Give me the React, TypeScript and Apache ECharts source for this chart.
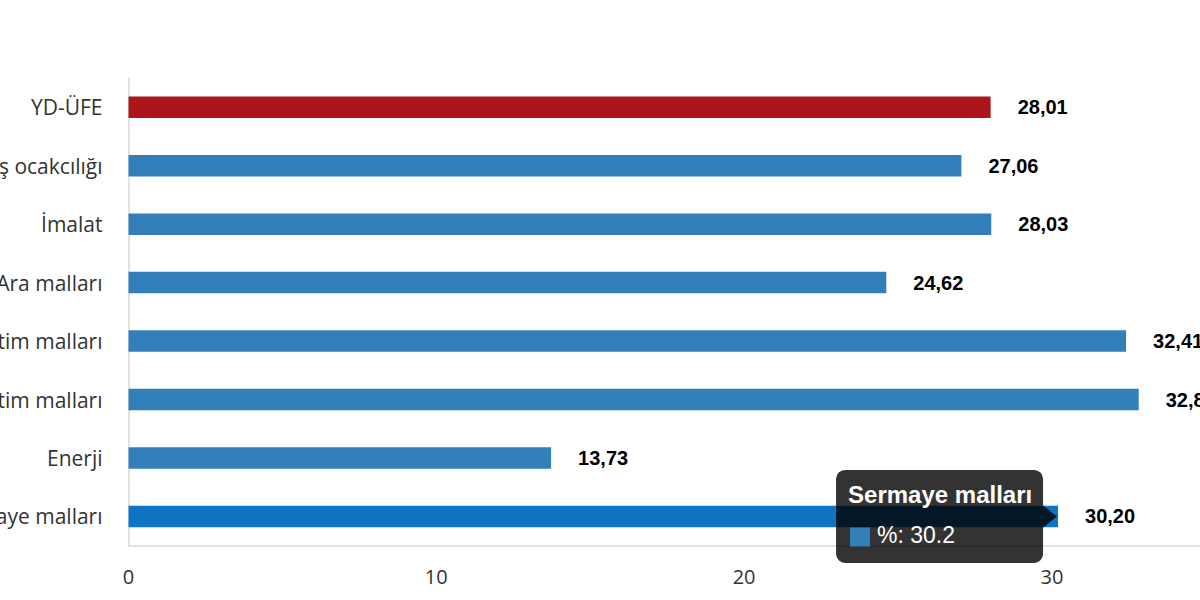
import React, { useEffect, useRef } from "react";
import * as echarts from "echarts";

const categories = [
  "YD-ÜFE",
  "Madencilik ve taş ocakcılığı",
  "İmalat",
  "Ara malları",
  "Dayanıklı tüketim malları",
  "Dayanıksız tüketim malları",
  "Enerji",
  "Sermaye malları",
];
const values = [28.01, 27.06, 28.03, 24.62, 32.41, 32.82, 13.73, 30.2];
const seriesName = "%";
const xMin = 0;
const xMax = 40;
const xInterval = 10;
const highlightedIndex = 7;

const BLUE = "#327fb9";
const RED = "#ac151c";
const HIGHLIGHT = "#1074c4";

const OFFSET_X = 300;
const INNER_W = 1700;
const INNER_H = 600;

export default function App() {
  const ref = useRef<HTMLDivElement>(null);

  useEffect(() => {
    if (!ref.current) return;
    const chart = echarts.init(ref.current, null, { renderer: "svg" });
    const data = values.map((v, i) => ({
      value: v,
      itemStyle: {
        color: i === 0 ? RED : i === highlightedIndex ? HIGHLIGHT : BLUE,
      },
    }));
    chart.setOption({
      animation: false,
      grid: {
        left: 128.5 + OFFSET_X,
        top: 78,
        width: 30.78 * (xMax - xMin),
        bottom: 54.3,
        containLabel: false,
      },
      xAxis: {
        type: "value",
        min: xMin,
        max: xMax,
        interval: xInterval,
        splitLine: { show: false },
        axisTick: { show: false },
        axisLine: { show: true, lineStyle: { color: "#e2e2e2", width: 2 } },
        axisLabel: {
          color: "#333",
          fontSize: 20,
          fontFamily: "Open Sans",
          margin: 21,
        },
      },
      yAxis: {
        type: "category",
        data: categories,
        inverse: true,
        axisTick: { show: false },
        axisLine: { show: true, lineStyle: { color: "#e2e2e2", width: 2 } },
        axisLabel: {
          color: "#333",
          fontSize: 21,
          fontFamily: "Open Sans",
          margin: 26,
        },
      },
      series: [
        {
          name: seriesName,
          type: "bar",
          data,
          barWidth: 21.5,
          label: {
            show: true,
            position: "right",
            distance: 27,
            color: "#000",
            fontSize: 20,
            fontWeight: "bold",
            fontFamily: "Arial, 'Liberation Sans', sans-serif",
            formatter: (p: any) => Number(p.value).toFixed(2).replace(".", ","),
          },
        },
      ],
    });

    const anchor = chart.convertToPixel({ gridIndex: 0 }, [
      values[highlightedIndex],
      categories[highlightedIndex],
    ]) as number[];
    const ax = anchor[0];
    const ay = anchor[1];
    const bw = 207;
    const bh = 93;
    const bx = ax - 15 - bw;
    const by = ay - bh / 2;
    const tipFill = "rgba(0,0,0,0.8)";
    chart.setOption({
      graphic: [
        {
          type: "rect",
          z: 100,
          shape: { x: bx, y: by, width: bw, height: bh, r: 9 },
          style: { fill: tipFill },
        },
        {
          type: "polygon",
          z: 100,
          shape: {
            points: [
              [bx + bw, ay - 11],
              [bx + bw + 14, ay],
              [bx + bw, ay + 11],
            ],
          },
          style: { fill: tipFill },
        },
        {
          type: "text",
          z: 101,
          x: bx + 12,
          y: by + 25,
          style: {
            text: categories[highlightedIndex],
            fill: "#fff",
            font: "bold 24px Arial, 'Liberation Sans', sans-serif",
            verticalAlign: "middle",
            textVerticalAlign: "middle",
          },
        },
        {
          type: "rect",
          z: 101,
          shape: { x: bx + 14, y: by + 57.5, width: 20, height: 19 },
          style: { fill: BLUE },
        },
        {
          type: "text",
          z: 101,
          x: bx + 41,
          y: by + 65,
          style: {
            text: seriesName + ": " + String(values[highlightedIndex]),
            fill: "#fff",
            font: "23px Arial, 'Liberation Sans', sans-serif",
            verticalAlign: "middle",
            textVerticalAlign: "middle",
          },
        },
      ],
    });

    return () => chart.dispose();
  }, []);

  return (
    <div
      style={{
        position: "fixed",
        left: 0,
        top: 0,
        width: 1200,
        height: 600,
        overflow: "hidden",
        background: "#fff",
      }}
    >
      <div
        ref={ref}
        style={{
          position: "absolute",
          left: -OFFSET_X,
          top: 0,
          width: INNER_W,
          height: INNER_H,
        }}
      />
    </div>
  );
}
